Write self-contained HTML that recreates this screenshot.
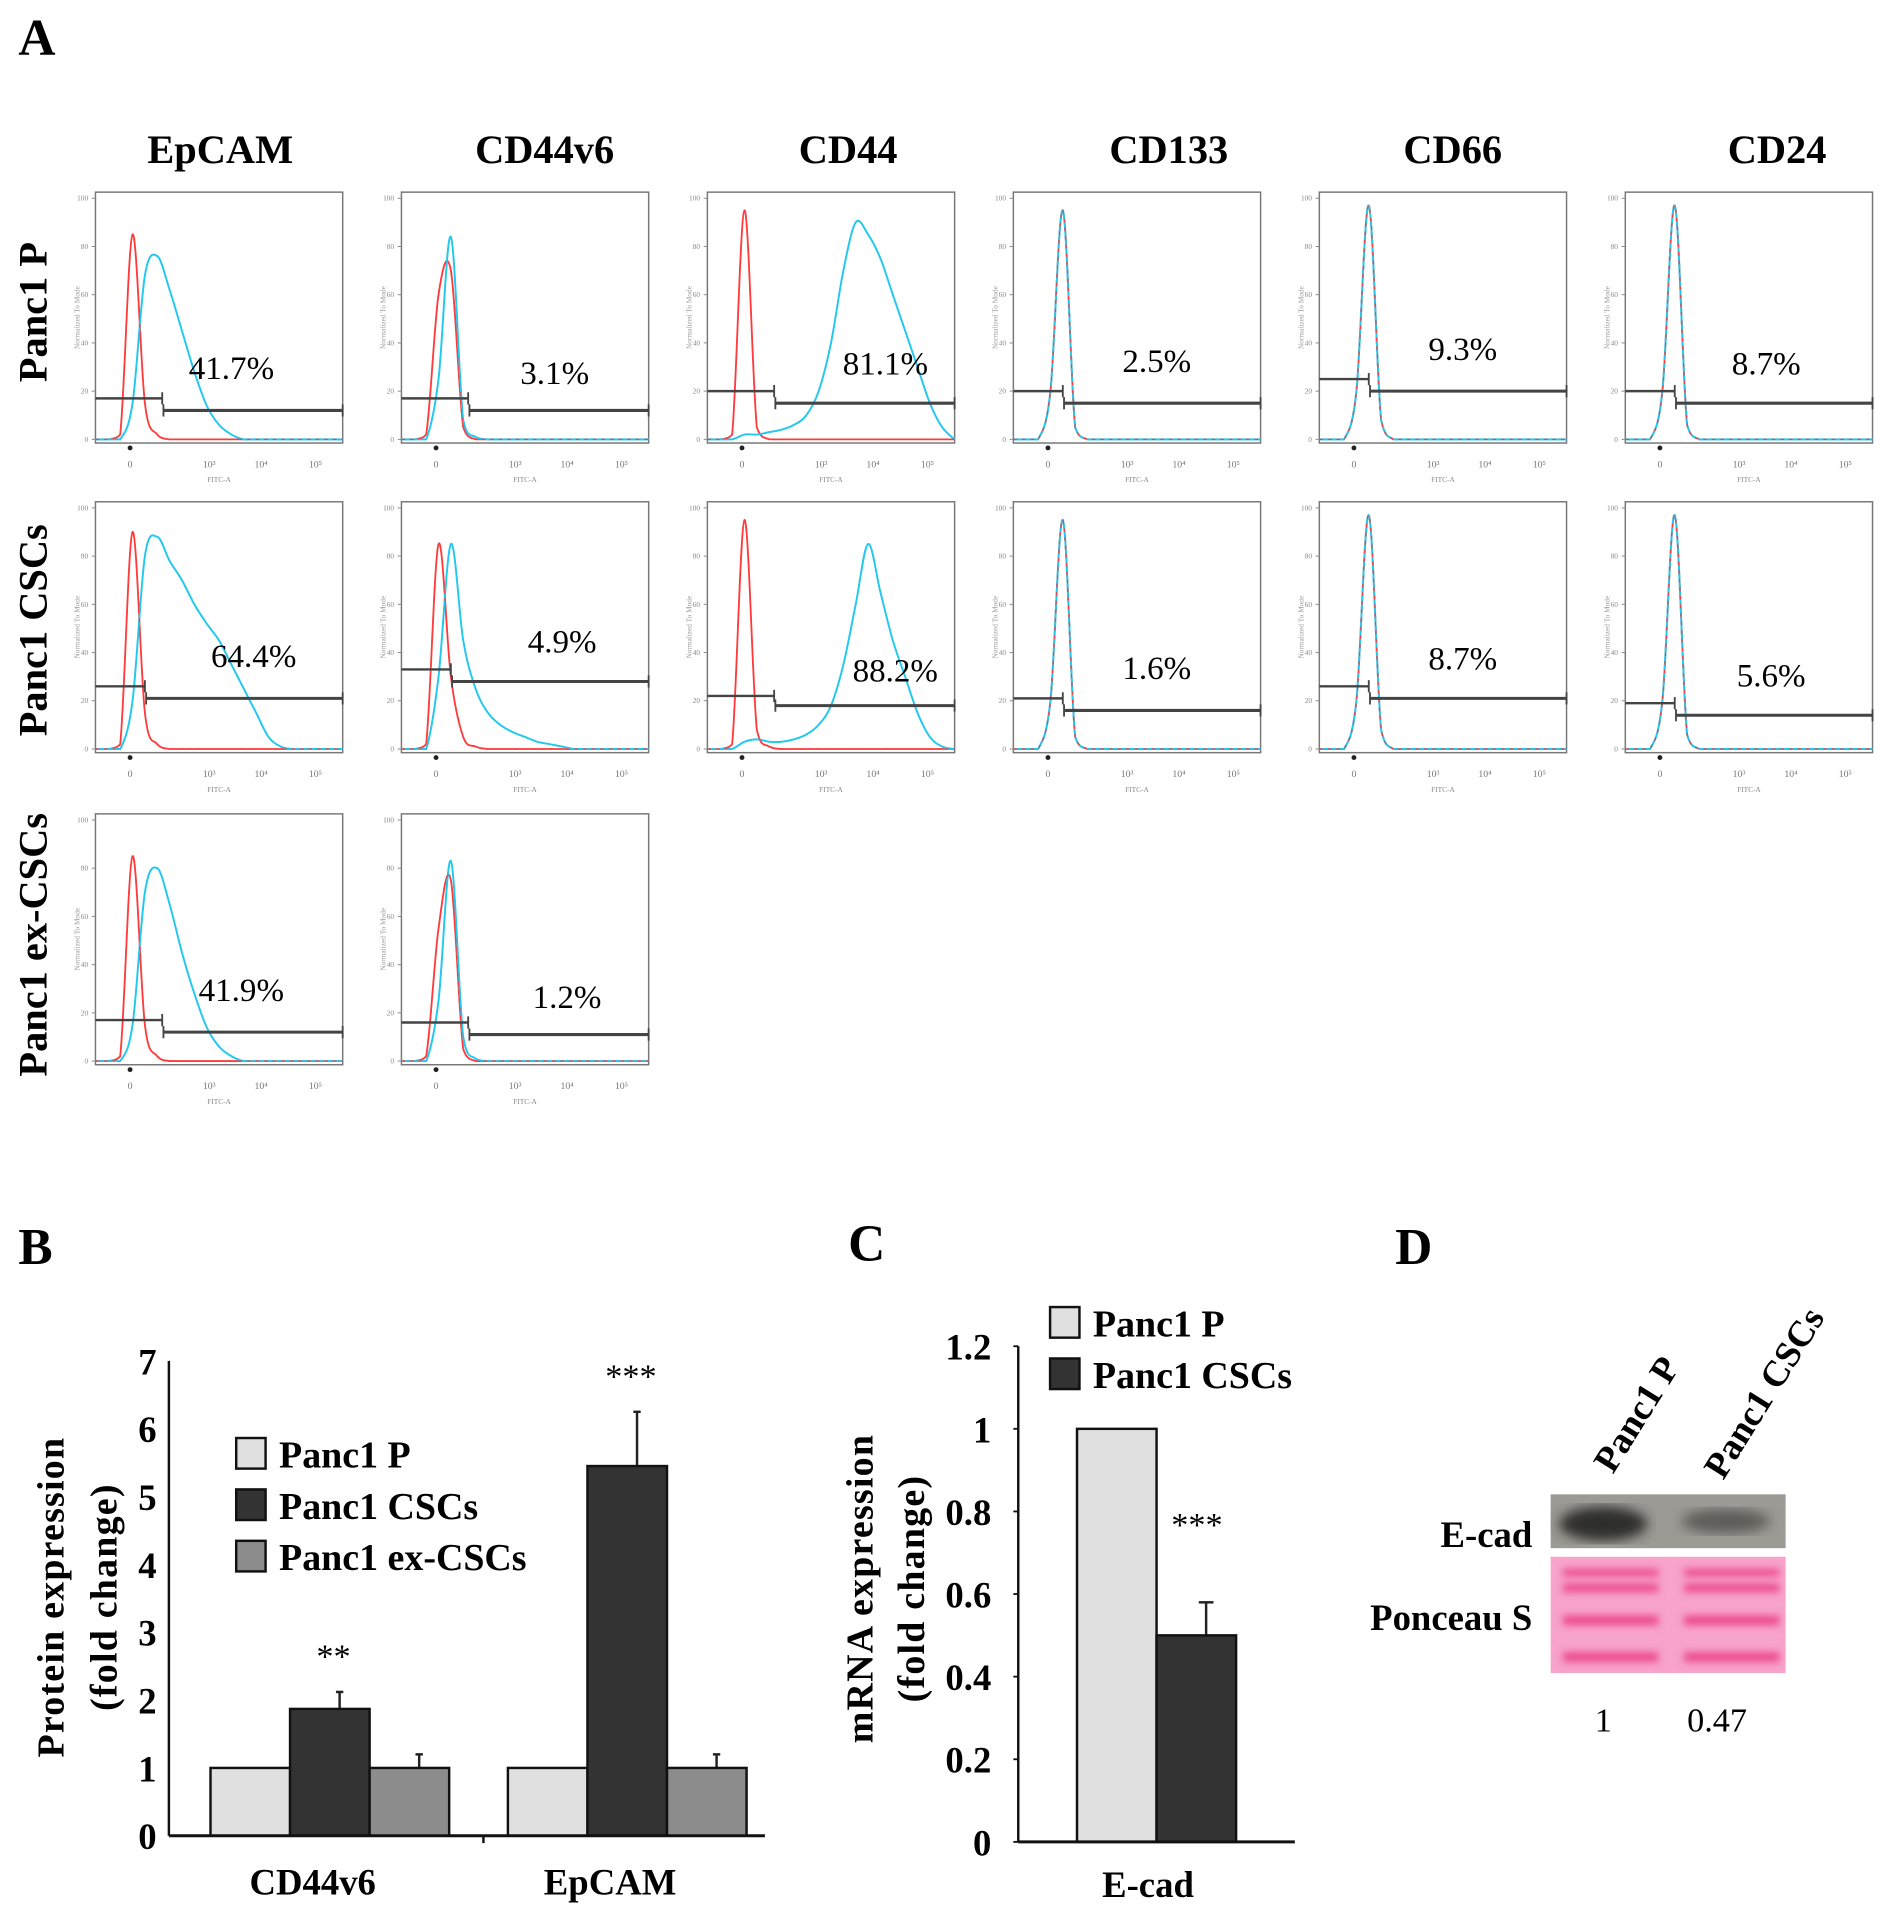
<!DOCTYPE html>
<html><head><meta charset="utf-8">
<style>
html,body{margin:0;padding:0;background:#fff;}
svg{display:block;}
text{font-family:"Liberation Serif",serif;}
</style></head>
<body>
<svg id="fig" width="1897" height="1930" viewBox="0 0 1550 1577" preserveAspectRatio="none" xmlns="http://www.w3.org/2000/svg">
  <text x="15" y="45" font-size="42" font-weight="bold">A</text>
  <text x="15" y="1033" font-size="42" font-weight="bold">B</text>
  <text x="693" y="1030" font-size="42" font-weight="bold">C</text>
  <text x="1140" y="1033" font-size="42" font-weight="bold">D</text>
  <g id="flow"></g>
  <g id="barB"></g>
  <g id="barC"></g>
  <g id="blot">
    <text transform="translate(1318,1205) rotate(-58)" font-size="30" font-weight="bold">Panc1 P</text>
    <text transform="translate(1408,1210) rotate(-58)" font-size="30" font-weight="bold">Panc1 CSCs</text>
    <defs>
      <filter id="blur"><feGaussianBlur stdDeviation="5"/></filter>
      <filter id="blur2"><feGaussianBlur stdDeviation="3"/></filter>
    </defs>
    <rect x="1267" y="1221" width="192" height="44" fill="#9c9a94"/>
    <ellipse cx="1310" cy="1245" rx="36" ry="14" fill="#2e2e2c" filter="url(#blur)"/>
    <ellipse cx="1410" cy="1243" rx="36" ry="10" fill="#5e5c58" filter="url(#blur)"/>
    <rect x="1267" y="1272" width="192" height="95" fill="#f7a3cb"/>
    <g fill="#ec4a8e" filter="url(#blur2)">
      <rect x="1277" y="1282" width="78" height="6"/><rect x="1376" y="1282" width="78" height="6"/>
      <rect x="1277" y="1294" width="78" height="7"/><rect x="1376" y="1294" width="78" height="7"/>
      <rect x="1277" y="1320" width="78" height="8"/><rect x="1376" y="1320" width="78" height="8"/>
      <rect x="1277" y="1350" width="78" height="8"/><rect x="1376" y="1350" width="78" height="8"/>
    </g>
    <text x="1252" y="1264" font-size="30" font-weight="bold" text-anchor="end">E-cad</text>
    <text x="1252" y="1332" font-size="30" font-weight="bold" text-anchor="end">Ponceau S</text>
    <text x="1310" y="1415" font-size="28" text-anchor="middle">1</text>
    <text x="1403" y="1415" font-size="28" text-anchor="middle">0.47</text>
  </g>
</svg>
<script>
// ---------- Panel A: flow cytometry data ----------
const markers = ["EpCAM","CD44v6","CD44","CD133","CD66","CD24"];
const rowLabels = ["Panc1 P","Panc1 CSCs","Panc1 ex-CSCs"];
const percents = [
  ["41.7%","3.1%","81.1%","2.5%","9.3%","8.7%"],
  ["64.4%","4.9%","88.2%","1.6%","8.7%","5.6%"],
  ["41.9%","1.2%"]
];
// cyan histograms sampled every 5% of x range (0..100)
const cyanSeries = [
  [
    [0,0,0,15,68,76,62,45,28,14,6,2,0,0,0,0,0,0,0,0,0],
    [0,0,0,25,84,8,1,0,0,0,0,0,0,0,0,0,0,0,0,0,0],
    [0,0,0,2,2,3,4,6,10,20,40,70,90,85,75,60,45,30,15,5,0],
    [0,0,0,20,95,5,0,0,0,0,0,0,0,0,0,0,0,0,0,0,0],
    [0,0,0,20,97,8,0,0,0,0,0,0,0,0,0,0,0,0,0,0,0],
    [0,0,0,20,97,6,0,0,0,0,0,0,0,0,0,0,0,0,0,0,0]
  ],
  [
    [0,0,0,20,80,88,78,70,60,52,45,35,25,15,5,1,0,0,0,0,0],
    [0,0,0,30,85,45,25,15,10,7,5,3,2,1,0,0,0,0,0,0,0],
    [0,0,0,3,4,3,3,4,6,10,18,35,60,85,65,45,30,15,5,1,0],
    [0,0,0,20,95,5,0,0,0,0,0,0,0,0,0,0,0,0,0,0,0],
    [0,0,0,20,97,8,0,0,0,0,0,0,0,0,0,0,0,0,0,0,0],
    [0,0,0,20,97,6,0,0,0,0,0,0,0,0,0,0,0,0,0,0,0]
  ],
  [
    [0,0,0,15,70,80,65,45,28,14,6,2,0,0,0,0,0,0,0,0,0],
    [0,0,0,25,83,10,1,0,0,0,0,0,0,0,0,0,0,0,0,0,0]
  ]
];
const redSeries = [
  [
    [0,0,2,85,15,2,0,0,0,0,0,0,0,0,0,0,0,0,0,0,0],
    [0,0,2,60,70,5,0,0,0,0,0,0,0,0,0,0,0,0,0,0,0],
    [0,0,2,95,5,0,0,0,0,0,0,0,0,0,0,0,0,0,0,0,0],
    [0,0,0,20,95,5,0,0,0,0,0,0,0,0,0,0,0,0,0,0,0],
    [0,0,0,20,97,8,0,0,0,0,0,0,0,0,0,0,0,0,0,0,0],
    [0,0,0,20,97,6,0,0,0,0,0,0,0,0,0,0,0,0,0,0,0]
  ],
  [
    [0,0,2,90,15,2,0,0,0,0,0,0,0,0,0,0,0,0,0,0,0],
    [0,0,2,85,30,5,1,0,0,0,0,0,0,0,0,0,0,0,0,0,0],
    [0,0,2,95,8,1,0,0,0,0,0,0,0,0,0,0,0,0,0,0,0],
    [0,0,0,20,95,5,0,0,0,0,0,0,0,0,0,0,0,0,0,0,0],
    [0,0,0,20,97,8,0,0,0,0,0,0,0,0,0,0,0,0,0,0,0],
    [0,0,0,20,97,6,0,0,0,0,0,0,0,0,0,0,0,0,0,0,0]
  ],
  [
    [0,0,2,85,15,2,0,0,0,0,0,0,0,0,0,0,0,0,0,0,0],
    [0,0,2,55,75,5,0,0,0,0,0,0,0,0,0,0,0,0,0,0,0]
  ]
];
// gate y levels (percent of y axis) left/right and split position (% of x)
const gateLeft = [[17,17,20,20,25,20],[26,33,22,21,26,19],[17,16]];
const gateRight = [[12,12,15,15,20,15],[21,28,18,16,21,14],[12,11]];
const gateSplit = [[27,27,27,20,20,20],[20,20,27,20,20,20],[27,27]];
const pctPos = [[[55,25],[62,23],[72,27],[58,28],[58,33],[57,27]],[[64,34],[65,40],[76,28],[58,29],[58,33],[59,26]],[[59,25],[67,22]]];

const NS = "http://www.w3.org/2000/svg";
function mk(tag, attrs, parent){const e=document.createElementNS(NS,tag);for(const k in attrs)e.setAttribute(k,attrs[k]);parent.appendChild(e);return e;}

const colX = [78,328,578,828,1078,1328];
const rowY = [157,410,665];
const colTitleX = [180,445,693,955,1187,1452];
const boxW = 202, boxH = 205;
const flow = document.getElementById('flow');

markers.forEach((m,i)=>{
  const t = mk('text',{x:colTitleX[i],y:133,'font-size':33,'font-weight':'bold','text-anchor':'middle'},flow);
  t.textContent = m;
  
  
});
const rowCenters=[255,515,772];
rowLabels.forEach((r,i)=>{
  const t = mk('text',{transform:`translate(38,${rowCenters[i]}) rotate(-90)`,'font-size':33,'font-weight':'bold','text-anchor':'middle'},flow);
  t.textContent = r;
  
  
});

function smoothPath(pts, base){
  let d=`M${pts[0][0]},${pts[0][1]}`;
  for(let i=0;i<pts.length-1;i++){
    const p0=pts[Math.max(0,i-1)],p1=pts[i],p2=pts[i+1],p3=pts[Math.min(pts.length-1,i+2)];
    const c1=[p1[0]+(p2[0]-p0[0])/6,Math.min(base,p1[1]+(p2[1]-p0[1])/6)];
    const c2=[p2[0]-(p3[0]-p1[0])/6,Math.min(base,p2[1]-(p3[1]-p1[1])/6)];
    d+=` C${c1[0]},${c1[1]} ${c2[0]},${c2[1]} ${p2[0]},${p2[1]}`;
  }
  return d;
}

for(let r=0;r<percents.length;r++){
  for(let c=0;c<percents[r].length;c++){
    const x0=colX[c], y0=rowY[r];
    const g = mk('g',{},flow);
    
    
    const sx = v => x0 + v/100*boxW;
    const sy = v => y0 + boxH - 3 - v/100*(boxH-8);
    mk('rect',{x:x0,y:y0,width:boxW,height:boxH,fill:'none',stroke:'#777','stroke-width':1.2},g);
    [0,20,40,60,80,100].forEach(v=>{
      mk('line',{x1:x0-3,x2:x0,y1:sy(v),y2:sy(v),stroke:'#888','stroke-width':0.8},g);
      const t=mk('text',{x:x0-6,y:sy(v)+2,'font-size':6,fill:'#888','text-anchor':'end','font-family':'Liberation Sans'},g);
      t.textContent=v;
    });
    const yt=mk('text',{transform:`translate(${x0-13},${y0+boxH/2}) rotate(-90)`,'font-size':6,fill:'#999','text-anchor':'middle'},g);
    yt.textContent='Normalized To Mode';
    [['0',14],['10³',46],['10⁴',67],['10⁵',89]].forEach(([s,v])=>{
      const t=mk('text',{x:sx(v),y:y0+boxH+20,'font-size':8,fill:'#777','text-anchor':'middle'},g);t.textContent=s;
    });
    mk('circle',{cx:sx(14),cy:y0+boxH+4,r:2,fill:'#222'},g);
    const xt=mk('text',{x:sx(50),y:y0+boxH+32,'font-size':6,fill:'#888','text-anchor':'middle'},g);
    xt.textContent='FITC-A';
    const base = sy(0);
    const red = redSeries[r][c].map((v,k)=>[sx(k*5),sy(v)]);
    const cyan = cyanSeries[r][c].map((v,k)=>[sx(k*5),sy(v)]);
    const rp=mk('path',{d:smoothPath(red,base),fill:'none',stroke:'#ff3b3b','stroke-width':1.5},g);
    
    
    const cp=mk('path',{d:smoothPath(cyan,base),fill:'none',stroke:'#22c8ee','stroke-width':1.6},g);
    
    
    // dashed red overlay so control remains visible where overlapped
    mk('path',{d:smoothPath(red,base),fill:'none',stroke:'#ff3b3b','stroke-width':1,'stroke-dasharray':'3 4'},g);
    const sp = gateSplit[r][c];
    const gl=sy(gateLeft[r][c]), gr=sy(gateRight[r][c]);
    mk('line',{x1:x0,x2:sx(sp),y1:gl,y2:gl,stroke:'#444','stroke-width':2},g);
    mk('line',{x1:sx(sp),x2:sx(sp),y1:gl-5,y2:gl+5,stroke:'#444','stroke-width':1.5},g);
    mk('line',{x1:sx(sp)+1,x2:x0+boxW,y1:gr,y2:gr,stroke:'#444','stroke-width':2.5},g);
    mk('line',{x1:sx(sp)+1,x2:sx(sp)+1,y1:gr-5,y2:gr+5,stroke:'#444','stroke-width':1.5},g);
    mk('line',{x1:x0+boxW,x2:x0+boxW,y1:gr-5,y2:gr+5,stroke:'#444','stroke-width':1.5},g);
    const pt=mk('text',{x:sx(pctPos[r][c][0]),y:sy(pctPos[r][c][1]),'font-size':27,'text-anchor':'middle'},g);
    pt.textContent=percents[r][c];
    
    
  }
}

// ---------- Panel B ----------
const bCategories = ["CD44v6","EpCAM"];
const bSeriesNames = ["Panc1 P","Panc1 CSCs","Panc1 ex-CSCs"];
const bP = [1,1];
const bCSC = [1.87,5.45];
const bEx = [1.0,1.0];
const bErrCSC = [0.25,0.8];
const bErrEx = [0.2,0.2];
const bStars = ["**","***"];
const bTicks = [0,1,2,3,4,5,6,7];

(function(){
  const g=document.getElementById('barB');
  
  
  const y0=1500, yTop=1112, ax=138, axEnd=625;
  const sy=v=>y0-(v/7)*(y0-yTop);
  const groupStart=[172,415], bw=65;
  const colors=['#e0e0e0','#333','#8c8c8c'];
  const series=[bP,bCSC,bEx];
  const errs=[null,bErrCSC,bErrEx];
  bCategories.forEach((cat,ci)=>{
    series.forEach((s,si)=>{
      const x=groupStart[ci]+si*bw, v=s[ci];
      if(errs[si]){
        const e=errs[si][ci];
        mk('line',{x1:x+bw/2+8,x2:x+bw/2+8,y1:sy(v),y2:sy(v+e),stroke:'#222','stroke-width':2},g);
        mk('line',{x1:x+bw/2+5,x2:x+bw/2+11,y1:sy(v+e),y2:sy(v+e),stroke:'#222','stroke-width':2},g);
      }
      const b=mk('rect',{x:x,y:sy(v),width:bw,height:y0-sy(v),fill:colors[si],stroke:'#111','stroke-width':2},g);
      
      
    });
    const st=mk('text',{x:groupStart[ci]+bw*1.5+3,y:sy(bCSC[ci]+bErrCSC[ci])-20,'font-size':28,'text-anchor':'middle'},g);
    st.textContent=bStars[ci];
    
    
    const xl=mk('text',{x:groupStart[ci]+bw*1.5-14,y:1548,'font-size':30,'font-weight':'bold','text-anchor':'middle'},g);
    xl.textContent=cat;
    
    
  });
  mk('line',{x1:ax,x2:ax,y1:yTop,y2:y0,stroke:'#111','stroke-width':2},g);
  mk('line',{x1:ax,x2:axEnd,y1:y0,y2:y0,stroke:'#111','stroke-width':2.5},g);
  mk('line',{x1:395,x2:395,y1:y0,y2:y0+6,stroke:'#111','stroke-width':2},g);
  bTicks.forEach(v=>{
    const t=mk('text',{x:128,y:sy(v)+11,'font-size':30,'font-weight':'bold','text-anchor':'end'},g);
    t.textContent=v;
    
    
  });
  const yt1=mk('text',{transform:'translate(52,1305) rotate(-90)','font-size':31,'font-weight':'bold','text-anchor':'middle','letter-spacing':'1'},g);
  yt1.textContent='Protein expression';
  
  
  const yt2=mk('text',{transform:'translate(95,1305) rotate(-90)','font-size':31,'font-weight':'bold','text-anchor':'middle','letter-spacing':'1'},g);
  yt2.textContent='(fold change)';
  bSeriesNames.forEach((n,i)=>{
    const ly=1175+i*42;
    const r=mk('rect',{x:193,y:ly,width:24,height:25,fill:colors[i],stroke:'#111','stroke-width':2},g);
    
    
    const t=mk('text',{x:228,y:ly+24,'font-size':31,'font-weight':'bold'},g);
    t.textContent=n;
    
    
  });
})();

// ---------- Panel C ----------
const cCategories = ["E-cad"];
const cSeriesNames = ["Panc1 P","Panc1 CSCs"];
const cP = [1];
const cCSC = [0.5];
const cErrCSC = [0.08];
const cTicks = [0,0.2,0.4,0.6,0.8,1,1.2];

(function(){
  const g=document.getElementById('barC');
  
  
  const y0=1505, yTop=1100, ax=832, axEnd=1058;
  const sy=v=>y0-(v/1.2)*(y0-yTop);
  const colors=['#e0e0e0','#333'];
  const bw=65, x0=880;
  const e=cErrCSC[0], v2=cCSC[0];
  mk('line',{x1:x0+bw*1.5+8,x2:x0+bw*1.5+8,y1:sy(v2),y2:sy(v2+e),stroke:'#222','stroke-width':2},g);
  mk('line',{x1:x0+bw*1.5+2,x2:x0+bw*1.5+14,y1:sy(v2+e),y2:sy(v2+e),stroke:'#222','stroke-width':2},g);
  [cP,cCSC].forEach((s,si)=>{
    const b=mk('rect',{x:x0+si*bw,y:sy(s[0]),width:bw,height:y0-sy(s[0]),fill:colors[si],stroke:'#111','stroke-width':2},g);
    
    
  });
  const st=mk('text',{x:978,y:1255,'font-size':28,'text-anchor':'middle'},g);
  st.textContent='***';
  mk('line',{x1:ax,x2:ax,y1:yTop,y2:y0,stroke:'#111','stroke-width':2},g);
  mk('line',{x1:ax,x2:axEnd,y1:y0,y2:y0,stroke:'#111','stroke-width':2.5},g);
  cTicks.forEach(v=>{
    mk('line',{x1:ax-4,x2:ax,y1:sy(v),y2:sy(v),stroke:'#111','stroke-width':1.5},g);
    const t=mk('text',{x:810,y:sy(v)+11,'font-size':30,'font-weight':'bold','text-anchor':'end'},g);
    t.textContent=v;
    
    
  });
  const yt1=mk('text',{transform:'translate(713,1298) rotate(-90)','font-size':31,'font-weight':'bold','text-anchor':'middle','letter-spacing':'1'},g);
  yt1.textContent='mRNA expression';
  
  
  const yt2=mk('text',{transform:'translate(755,1298) rotate(-90)','font-size':31,'font-weight':'bold','text-anchor':'middle','letter-spacing':'1'},g);
  yt2.textContent='(fold change)';
  const xl=mk('text',{x:938,y:1550,'font-size':30,'font-weight':'bold','text-anchor':'middle'},g);
  xl.textContent=cCategories[0];
  
  
  cSeriesNames.forEach((n,i)=>{
    const ly=1068+i*42;
    const r=mk('rect',{x:858,y:ly,width:24,height:25,fill:colors[i],stroke:'#111','stroke-width':2},g);
    
    
    const t=mk('text',{x:893,y:ly+24,'font-size':31,'font-weight':'bold'},g);
    t.textContent=n;
    
    
  });
})();
</script>
</body></html>
